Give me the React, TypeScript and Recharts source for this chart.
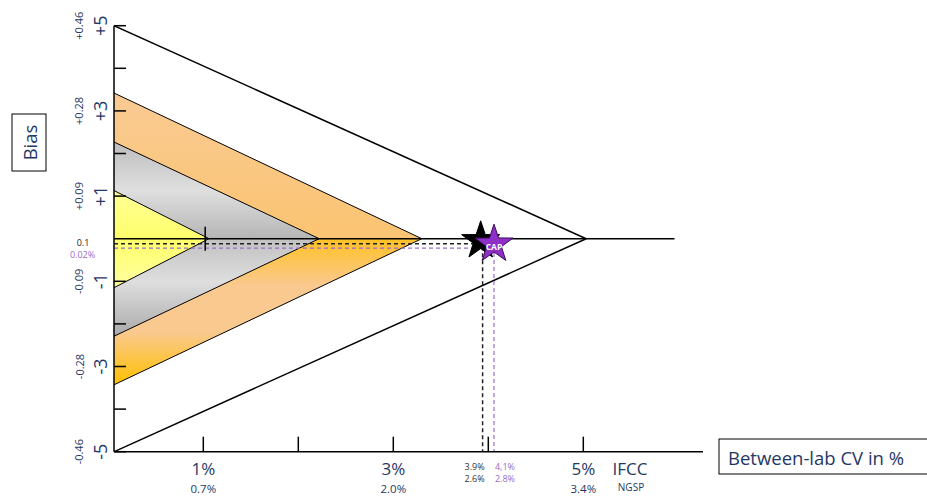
import { ComposedChart, Area, Line, Scatter, XAxis, YAxis } from 'recharts';

const NAVY = '#1F3864';
const PURPLE = '#8E2FC8';
const PURPLE_SOFT = '#9B6CC9';
const FONT = '"Open Sans", "Noto Sans", sans-serif';

// axis ranges (between-lab CV in %, bias)
const X_MIN = 0.06;
const X_MAX = 6.26;
const Y_MIN = -5;
const Y_MAX = 5;

const xTicks = [1, 2, 3, 4, 5];
const xTickIfcc = ['1%', '', '3%', '', '5%'];
const xTickNgsp = ['0.7%', '', '2.0%', '', '3.4%'];

const yTicks = [-5, -4, -3, -2, -1, 0, 1, 2, 3, 4, 5];
const yTickMain = ['-5', '', '-3', '', '-1', '', '+1', '', '+3', '', '+5'];
const yTickNgsp = ['-0.46', '', '-0.28', '', '-0.09', '', '+0.09', '', '+0.28', '', '+0.46'];

// triangles: [lower, upper] bias at the axis, closing at the apex
const outerTriangle = [
  { x: 0.06, band: [-5, 5] },
  { x: 5.03, band: [0, 0] },
];
const orangeTriangle = [
  { x: 0.06, band: [-3.43, 3.42] },
  { x: 3.3, band: [0, 0] },
];
const grayTriangle = [
  { x: 0.06, band: [-2.29, 2.27] },
  { x: 2.22, band: [0, 0] },
];
const yellowTriangle = [
  { x: 0.06, band: [-1.15, 1.13] },
  { x: 1.06, band: [0, 0] },
];

const zeroLine = [
  { x: 0.06, y: 0 },
  { x: 5.96, y: 0 },
];

const labPath = [
  { x: 0.06, y: -0.12 },
  { x: 3.94, y: -0.12 },
  { x: 3.94, y: -5 },
];
const capPath = [
  { x: 0.06, y: -0.22 },
  { x: 4.06, y: -0.22 },
  { x: 4.06, y: -5 },
];

const crossPoint = [{ x: 1.02, y: 0 }];
const labPoint = [{ x: 3.92, y: -0.12 }];
const capPoint = [{ x: 4.06, y: -0.2 }];

// layout
const W = 927;
const H = 500;
const PLOT_LEFT = 114;
const PLOT_RIGHT = 703;
const PLOT_TOP = 25.7;
const PLOT_BOTTOM = 451.7;
const Y_AXIS_W = 60;
const X_AXIS_H = 30;

const px = (v: number) => PLOT_LEFT + ((v - X_MIN) / (X_MAX - X_MIN)) * (PLOT_RIGHT - PLOT_LEFT);

function starPath(cx: number, cy: number, R: number, r: number): string {
  const pts: string[] = [];
  for (let i = 0; i < 10; i++) {
    const a = ((-90 + i * 36) * Math.PI) / 180;
    const rad = i % 2 === 0 ? R : r;
    pts.push(`${(cx + rad * Math.cos(a)).toFixed(2)},${(cy + rad * Math.sin(a)).toFixed(2)}`);
  }
  return `M${pts.join('L')}Z`;
}

function XTick(props: any) {
  const { x, y, payload } = props;
  const i = xTicks.indexOf(payload.value);
  return (
    <g>
      <line x1={x} y1={y} x2={x} y2={y - 15} stroke="#000" strokeWidth={1.5} />
      {xTickIfcc[i] && (
        <text x={x} y={y + 17} textAnchor="middle" dominantBaseline="central" fontSize={17} fill={NAVY} fontFamily={FONT}>
          {xTickIfcc[i]}
        </text>
      )}
      {xTickNgsp[i] && (
        <text x={x} y={y + 37} textAnchor="middle" dominantBaseline="central" fontSize={11.5} fill={NAVY} fontFamily={FONT}>
          {xTickNgsp[i]}
        </text>
      )}
    </g>
  );
}

function YTick(props: any) {
  const { x, y, payload } = props;
  const i = yTicks.indexOf(payload.value);
  return (
    <g>
      {payload.value !== 0 && <line x1={x} y1={y} x2={x + 12} y2={y} stroke="#000" strokeWidth={1.5} />}
      {yTickMain[i] && (
        <text
          x={x - 14}
          y={y}
          transform={`rotate(-90 ${x - 14} ${y})`}
          textAnchor="middle"
          dominantBaseline="central"
          fontSize={18}
          fill={NAVY}
          fontFamily={FONT}
        >
          {yTickMain[i]}
        </text>
      )}
      {yTickNgsp[i] && (
        <text
          x={x - 35}
          y={y}
          transform={`rotate(-90 ${x - 35} ${y})`}
          textAnchor="middle"
          dominantBaseline="central"
          fontSize={11}
          fill={NAVY}
          fontFamily={FONT}
        >
          {yTickNgsp[i]}
        </text>
      )}
    </g>
  );
}

function CrossShape(props: any) {
  const { cx, cy } = props;
  return <line x1={cx} y1={cy - 12} x2={cx} y2={cy + 12} stroke="#000" strokeWidth={1.5} />;
}

function LabStar(props: any) {
  const { cx, cy } = props;
  return <path d={starPath(cx, cy - 3, 20, 7.8)} fill="#000" stroke="#000" strokeWidth={1} />;
}

function CapStar(props: any) {
  const { cx, cy } = props;
  return (
    <g>
      <path d={starPath(cx, cy - 3, 20, 7.8)} fill={PURPLE} stroke="#3a0a55" strokeWidth={1} />
      <text x={cx} y={cy - 1} textAnchor="middle" dominantBaseline="central" fontSize={8.5} fontWeight="bold" fill="#fff" fontFamily={FONT}>
        CAP
      </text>
    </g>
  );
}

export default function App() {
  const labX = px(labPath[1].x);
  const capX = px(capPath[1].x);
  return (
    <div style={{ position: 'absolute', left: 0, top: 0, width: W, height: H, background: '#fff' }}>
      <ComposedChart
        width={W}
        height={H}
        margin={{ top: PLOT_TOP, right: W - PLOT_RIGHT, bottom: H - PLOT_BOTTOM - X_AXIS_H, left: PLOT_LEFT - Y_AXIS_W }}
      >
        <defs>
          <linearGradient id="orangeFill" x1="0" y1="0" x2="0" y2="1">
            <stop offset="0%" stopColor="#F9CA93" />
            <stop offset="49.8%" stopColor="#FBC472" />
            <stop offset="50%" stopColor="#FFC125" />
            <stop offset="66%" stopColor="#FAC98F" />
            <stop offset="82%" stopColor="#FAC98F" />
            <stop offset="100%" stopColor="#FFC000" />
          </linearGradient>
          <linearGradient id="grayFill" x1="0" y1="0" x2="0" y2="1">
            <stop offset="0%" stopColor="#BDBDBD" />
            <stop offset="25%" stopColor="#DFDFDF" />
            <stop offset="49.8%" stopColor="#B5B5B5" />
            <stop offset="50%" stopColor="#C2C2C2" />
            <stop offset="72%" stopColor="#DEDEDE" />
            <stop offset="100%" stopColor="#AAAAAA" />
          </linearGradient>
          <linearGradient id="yellowFill" x1="0" y1="0" x2="0" y2="1">
            <stop offset="0%" stopColor="#FFFF96" />
            <stop offset="50%" stopColor="#FFFF6C" />
            <stop offset="100%" stopColor="#FFFFA0" />
          </linearGradient>
        </defs>
        <XAxis
          dataKey="x"
          type="number"
          domain={[X_MIN, X_MAX]}
          allowDataOverflow
          ticks={xTicks}
          tick={<XTick />}
          tickSize={0}
          tickMargin={0}
          tickLine={false}
          axisLine={{ stroke: '#000', strokeWidth: 1.5 }}
          height={X_AXIS_H}
          interval={0}
        />
        <YAxis
          type="number"
          domain={[Y_MIN, Y_MAX]}
          allowDataOverflow
          ticks={yTicks}
          tick={<YTick />}
          tickSize={0}
          tickMargin={0}
          tickLine={false}
          axisLine={{ stroke: '#000', strokeWidth: 1.5 }}
          width={Y_AXIS_W}
          interval={0}
        />
        <Area data={outerTriangle} dataKey="band" type="linear" stroke="#000" strokeWidth={1.5} fill="#fff" fillOpacity={1} isAnimationActive={false} dot={false} activeDot={false} />
        <Area data={orangeTriangle} dataKey="band" type="linear" stroke="#000" strokeWidth={1} fill="url(#orangeFill)" fillOpacity={1} isAnimationActive={false} dot={false} activeDot={false} />
        <Area data={grayTriangle} dataKey="band" type="linear" stroke="#000" strokeWidth={1} fill="url(#grayFill)" fillOpacity={1} isAnimationActive={false} dot={false} activeDot={false} />
        <Area data={yellowTriangle} dataKey="band" type="linear" stroke="#000" strokeWidth={1} fill="url(#yellowFill)" fillOpacity={1} isAnimationActive={false} dot={false} activeDot={false} />
        <Line data={zeroLine} dataKey="y" type="linear" stroke="#000" strokeWidth={1.5} dot={false} activeDot={false} isAnimationActive={false} />
        <Line data={labPath} dataKey="y" type="linear" stroke="#222" strokeWidth={1.5} strokeDasharray="4 3" dot={false} activeDot={false} isAnimationActive={false} />
        <Line data={capPath} dataKey="y" type="linear" stroke={PURPLE_SOFT} strokeWidth={1.2} strokeDasharray="4 3" dot={false} activeDot={false} isAnimationActive={false} />
        <Scatter data={crossPoint} dataKey="y" shape={<CrossShape />} isAnimationActive={false} />
        <Scatter data={labPoint} dataKey="y" shape={<LabStar />} isAnimationActive={false} />
        <Scatter data={capPoint} dataKey="y" shape={<CapStar />} isAnimationActive={false} />
      </ComposedChart>
      <svg width={W} height={H} style={{ position: 'absolute', left: 0, top: 0, pointerEvents: 'none' }}>
        <rect x={12} y={114} width={34} height={57} fill="#fff" stroke="#000" strokeWidth={1} />
        <text x={29} y={142.5} transform="rotate(-90 29 142.5)" textAnchor="middle" dominantBaseline="central" fontSize={18.5} fill={NAVY} fontFamily={FONT}>
          Bias
        </text>
        <text x={83} y={242} textAnchor="middle" dominantBaseline="central" fontSize={9} fill="#222" fontFamily={FONT}>
          0.1
        </text>
        <text x={82.5} y={254.5} textAnchor="middle" dominantBaseline="central" fontSize={9} fill={PURPLE_SOFT} fontFamily={FONT}>
          0.02%
        </text>
        <text x={labX - 8} y={466.5} textAnchor="middle" dominantBaseline="central" fontSize={9} fill="#333" fontFamily={FONT}>
          3.9%
        </text>
        <text x={labX - 8} y={478} textAnchor="middle" dominantBaseline="central" fontSize={9} fill="#333" fontFamily={FONT}>
          2.6%
        </text>
        <text x={capX + 11} y={466.5} textAnchor="middle" dominantBaseline="central" fontSize={9} fill={PURPLE_SOFT} fontFamily={FONT}>
          4,1%
        </text>
        <text x={capX + 11} y={478} textAnchor="middle" dominantBaseline="central" fontSize={9} fill={PURPLE_SOFT} fontFamily={FONT}>
          2.8%
        </text>
        <text x={630} y={468} textAnchor="middle" dominantBaseline="central" fontSize={17} fill={NAVY} fontFamily={FONT}>
          IFCC
        </text>
        <text x={631} y={487} textAnchor="middle" dominantBaseline="central" fontSize={10} fill={NAVY} fontFamily={FONT}>
          NGSP
        </text>
        <rect x={719} y={439} width={220} height={35} fill="#fff" stroke="#000" strokeWidth={1} />
        <text x={728} y={457} dominantBaseline="central" fontSize={18.5} fill={NAVY} fontFamily={FONT}>
          Between-lab CV in %
        </text>
      </svg>
    </div>
  );
}
